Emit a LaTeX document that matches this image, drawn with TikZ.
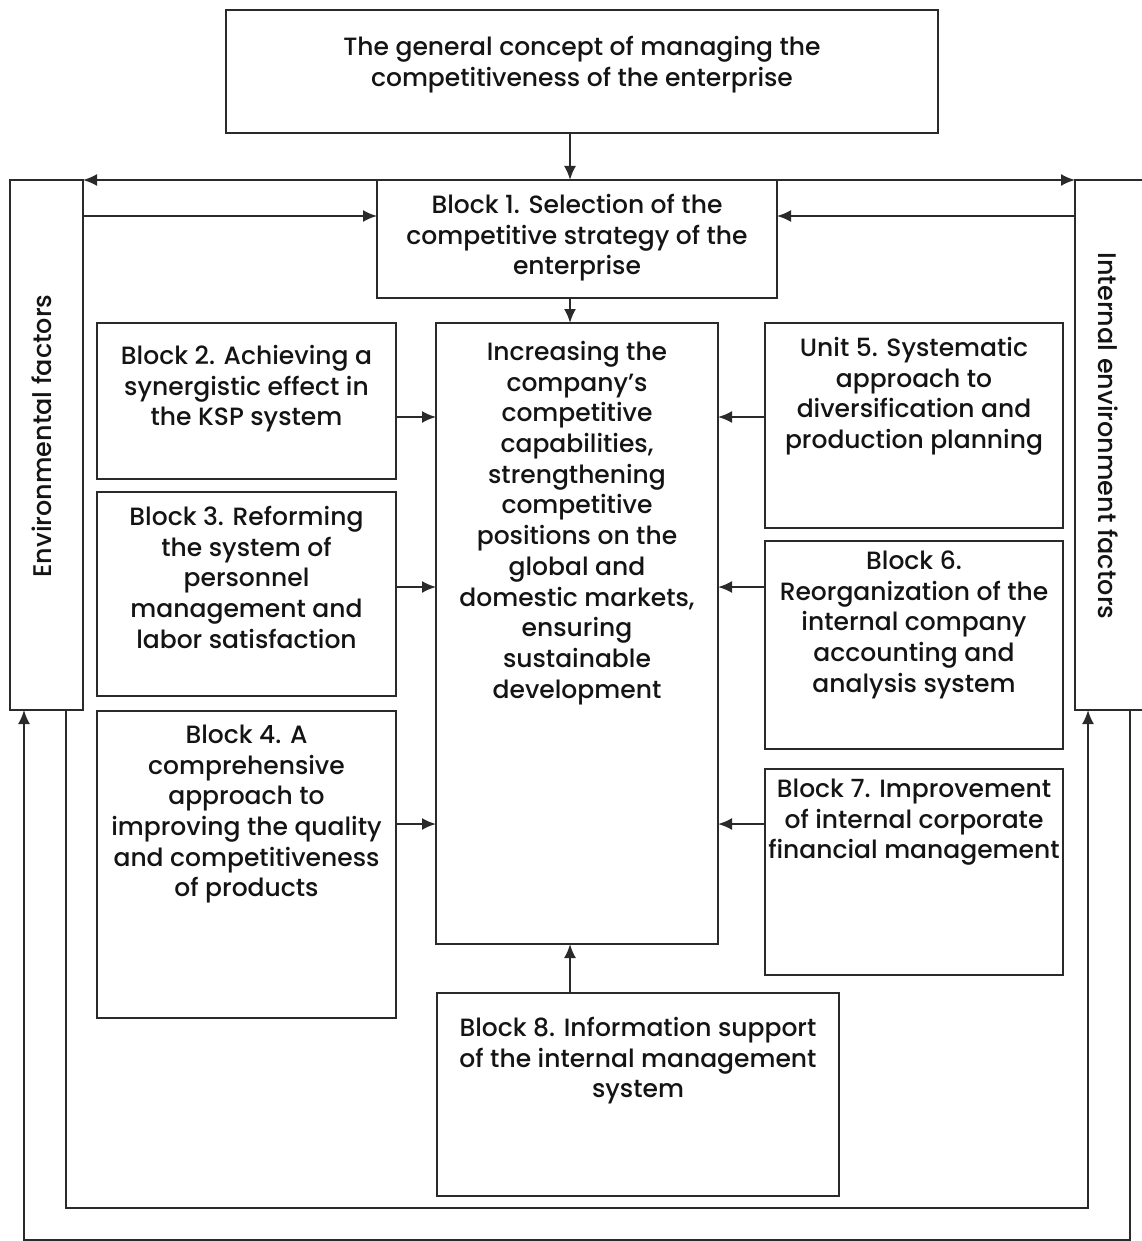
\documentclass[tikz,border=0pt]{standalone}
\usepackage{fontspec}
\setmainfont{Poppins Medium}
\usetikzlibrary{arrows.meta}
\definecolor{ink}{HTML}{141414}
\definecolor{edge}{HTML}{2A2A2A}
\newcommand\tb[4]{\parbox[c][#2pt][t]{#1pt}{\vspace*{#3pt}\makebox[#1pt][c]{\begin{tabular}{@{}c@{}}#4\end{tabular}}}}
\tikzset{
  box/.style={draw=edge, line width=2pt, inner sep=0pt, outer sep=0pt, anchor=north west,
    text=ink, font=\fontsize{25}{30.7}\selectfont},
  lbl/.style={inner sep=0pt, text=ink, font=\fontsize{25.5}{30}\selectfont},
  arr/.style={draw=edge, line width=2pt, -{Latex[length=14pt,width=12pt]}},
  ln/.style={draw=edge, line width=2pt}
}
\begin{document}
\begin{tikzpicture}[x=1pt,y=-1pt]
\useasboundingbox (0,0) rectangle (1142,1241);
\clip (0,0) rectangle (1142,1241);
\fill[white] (0,0) rectangle (1142,1241);
% boxes
\node[box] (top) at (226,10) {\tb{712}{123}{24}{The general concept of managing the\\competitiveness of the enterprise}};
\node[box, minimum width=73pt, minimum height=530pt] (env) at (10,180) {};
\node[box, minimum width=90pt, minimum height=530pt] (int) at (1075,180) {};
\node[box] (b1) at (377,180) {\tb{400}{118}{12}{Block 1. Selection of the\\competitive strategy of the\\enterprise}};
\node[box] (cen) at (436,323) {\tb{282}{621}{16}{Increasing the\\company's\\competitive\\capabilities,\\strengthening\\competitive\\positions on the\\global and\\domestic markets,\\ensuring\\sustainable\\development}};
\node[box] (b2) at (97,323) {\tb{299}{156}{20}{Block 2. Achieving a\\synergistic effect in\\the KSP system}};
\node[box] (b3) at (97,492) {\tb{299}{204}{12}{Block 3. Reforming\\the system of\\personnel\\management and\\labor satisfaction}};
\node[box] (b4) at (97,711) {\tb{299}{307}{11}{Block 4. A\\comprehensive\\approach to\\improving the quality\\and competitiveness\\of products}};
\node[box] (u5) at (765,323) {\tb{298}{205}{12}{Unit 5. Systematic\\approach to\\diversification and\\production planning}};
\node[box] (b6) at (765,541) {\tb{298}{208}{7}{Block 6.\\Reorganization of the\\internal company\\accounting and\\analysis system}};
\node[box] (b7) at (765,769) {\tb{298}{206}{7}{Block 7. Improvement\\of internal corporate\\financial management}};
\node[box] (b8) at (437,993) {\tb{402}{203}{22}{Block 8. Information support\\of the internal management\\system}};
% rotated labels
\node[lbl, rotate=90] (envt) at (42,436) {Environmental factors};
\node[lbl, rotate=-90] (intt) at (1108,436) {Internal environment factors};
% vertical arrows
\draw[arr] (top.south -| 570,0) -- (b1.north -| 570,0);
\draw[arr] (b1.south -| 570,0) -- (cen.north -| 570,0);
\draw[arr] (b8.north -| 570,0) -- (cen.south -| 570,0);
% side arrows into centre
\draw[arr] (b2.east |- 0,417) -- (cen.west |- 0,417);
\draw[arr] (b3.east |- 0,587) -- (cen.west |- 0,587);
\draw[arr] (b4.east |- 0,824) -- (cen.west |- 0,824);
\draw[arr] (u5.west |- 0,417) -- (cen.east |- 0,417);
\draw[arr] (b6.west |- 0,587) -- (cen.east |- 0,587);
\draw[arr] (b7.west |- 0,824) -- (cen.east |- 0,824);
% block 1 and factors
\draw[arr] (b1.north west) -- (env.north east);
\draw[arr] (b1.north east) -- (int.north west);
\draw[arr] (env.east |- 0,216) -- (b1.west |- 0,216);
\draw[arr] (int.west |- 0,216) -- (b1.east |- 0,216);
% feedback loops
\draw[arr] (env.south -| 66,0) -- (66,1208) -| (int.south -| 1088,0);
\draw[arr] (int.south -| 1130,0) -- (1130,1240) -| (env.south -| 24,0);
\end{tikzpicture}
\end{document}
